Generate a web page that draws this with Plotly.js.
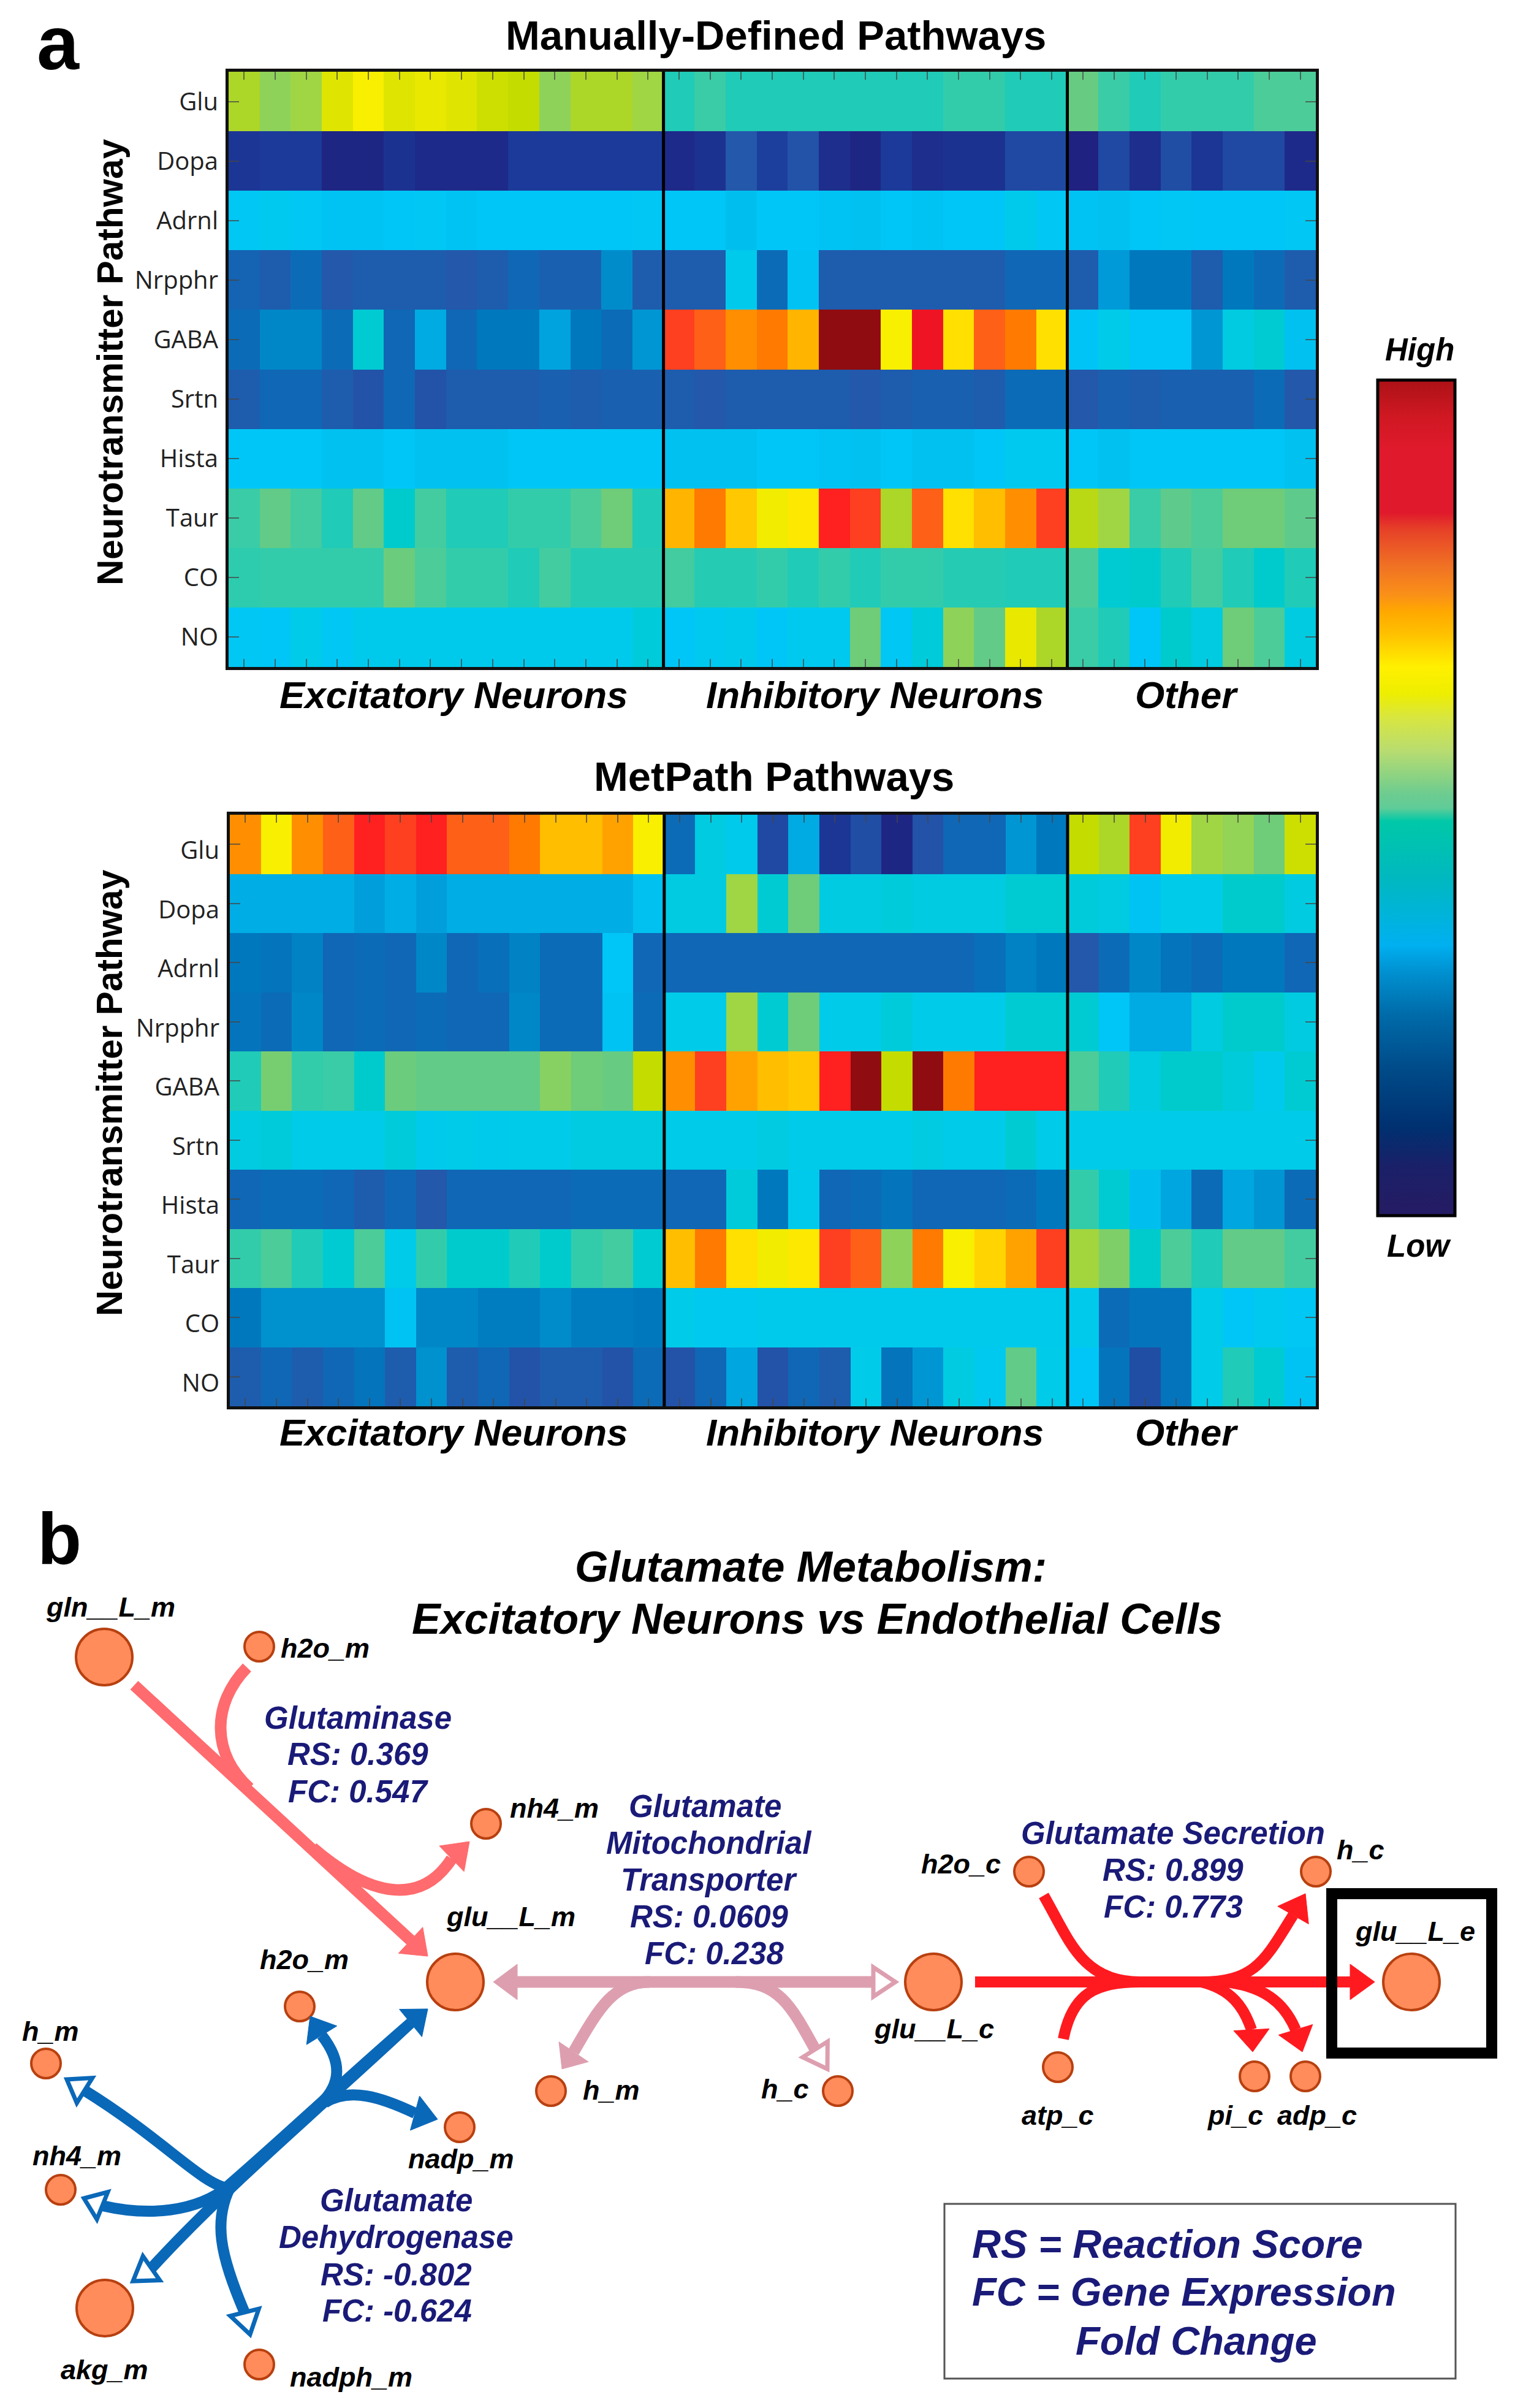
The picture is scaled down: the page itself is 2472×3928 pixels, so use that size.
<!DOCTYPE html>
<html><head><meta charset="utf-8">
<script src="https://cdn.plot.ly/plotly-3.0.1.min.js"></script>
<style>html,body{margin:0;padding:0;background:#fff}</style></head>
<body><div id="chart" style="width:2472px;height:3928px"></div>
<script>
// ---------- heatmap data ----------
const pathways = ["Glu","Dopa","Adrnl","Nrpphr","GABA","Srtn","Hista","Taur","CO","NO"];
const cellIndex = [...Array(35).keys()];
const groupLabels = ["Excitatory Neurons","Inhibitory Neurons","Other"];

const manualRows = [
 [76,68,72,83,86,83,84,83,81,80,68,76,76,72, 52,56,52,52,52,52,52,52,52,55,55,52,52, 62,56,52,55,55,55,58,58],
 [5,6,6,1,1,4,2,2,2,6,6,6,6,6, 2,4,12,7,11,3,1,6,3,4,4,9,9, 0,9,3,10,5,9,9,2],
 [41,42,41,38,38,40,41,38,40,40,40,40,40,41, 40,40,36,40,40,38,37,40,38,40,40,43,41, 38,37,40,41,40,40,40,41],
 [15,13,17,12,13,13,13,12,13,16,14,14,24,13, 13,13,43,17,38,13,13,13,13,13,13,16,16, 13,27,20,20,13,20,17,13],
 [17,23,23,17,47,16,31,16,20,20,29,20,17,26, 97,96,94,95,92,100,100,86,99,88,96,95,88, 39,44,40,40,26,45,47,37],
 [13,16,16,13,11,16,11,13,13,13,14,13,14,14, 13,12,13,13,13,13,12,13,14,14,13,17,17, 12,14,13,14,14,14,17,12],
 [40,40,40,37,37,40,37,37,37,40,40,40,40,40, 37,37,37,40,40,38,37,40,37,37,40,42,42, 40,37,40,40,40,40,40,37],
 [56,61,57,52,61,48,57,52,52,55,55,58,64,52, 92,95,90,85,87,98,97,76,96,88,91,94,97, 78,72,56,60,58,64,64,60],
 [54,55,55,55,55,63,58,55,55,52,57,53,53,53, 57,53,53,55,52,55,52,55,55,53,53,52,52, 58,47,48,52,57,52,48,52],
 [41,40,44,41,43,43,43,43,43,43,43,43,43,46, 40,42,43,40,42,42,64,41,46,68,61,84,76, 56,52,40,48,45,64,58,45]
];
const metpathRows = [
 [94,86,94,96,98,97,98,96,96,95,91,91,93,86, 17,45,43,9,31,5,10,1,11,16,16,26,20, 80,76,97,85,72,69,64,81],
 [32,32,32,32,28,32,28,32,32,32,32,32,32,37, 45,45,72,47,64,45,45,46,45,45,45,47,47, 46,45,38,44,44,48,48,45],
 [20,19,22,16,17,16,23,16,18,22,17,17,40,16, 16,16,16,16,16,16,16,16,16,16,18,22,20, 12,17,23,19,17,20,20,16],
 [19,17,23,16,17,16,17,16,16,23,17,17,38,17, 44,44,72,47,64,44,44,46,44,44,44,47,47, 47,40,31,31,45,48,48,45],
 [52,65,55,56,48,63,61,61,61,61,67,64,62,80, 94,97,93,91,90,98,100,80,100,95,98,98,98, 58,52,45,48,48,46,43,47],
 [45,46,44,44,44,46,43,44,43,44,44,45,45,45, 44,44,44,45,44,44,44,44,45,44,44,47,44, 44,44,44,44,44,44,44,44],
 [16,17,17,16,13,16,12,16,16,16,16,17,17,17, 16,16,46,20,43,16,17,19,16,16,16,17,20, 55,47,36,30,17,30,26,17],
 [55,58,52,47,58,44,55,48,48,52,48,55,57,47, 91,95,88,85,87,97,96,68,95,86,89,93,97, 73,66,48,58,52,61,61,57],
 [20,25,25,25,25,38,23,23,21,21,24,21,21,20, 44,42,42,43,43,43,43,43,43,43,43,43,43, 43,17,19,19,44,40,42,41],
 [13,16,13,16,19,13,25,13,16,11,13,13,11,17, 11,16,30,11,16,13,44,19,26,45,42,61,44, 40,19,10,19,44,52,47,38]
];

// colour levels for the cells (level 0..100 -> colour)
const cellLevels = [0,6,12,16,20,24,28,32,36,40,44,48,52,56,60,64,68,72,76,80,84,86,88,90,92,94,95,96,97,98,99,100];
const cellColors = ["#1f2280","#1b3a9a","#2358ab","#1067b5","#0078be","#008ccb","#009fdc","#00ade4","#00bfee","#00c6f7","#00cbe8","#00cbcc","#20cbb8","#3acca6","#5ecb8c","#6fcc78","#8ed25a","#a0d544","#acd628","#c4dc00","#e8e800","#f9ef00","#ffe000","#ffc800","#ffb400","#ff8f00","#ff7a00","#ff6018","#ff4020","#ff2020","#ee1424","#8f0c10"];
// colour bar
const barStops = [0,.01,.059,.105,.174,.239,.291,.324,.403,.472,.488,.504,.556,.596,.625,.657,.697,.723,.743,.779,.822,.841,.916,.956,.995,1];
const barColors = ["#241c64","#241c64","#1a2068","#003070","#004a88","#006aa8","#0090d0","#00b0f0","#00b8c0","#00c8a8","#60cc98","#6ccc90","#b8dc70","#d8e640","#eeee00","#fff000","#ffc000","#ffa800","#fa9018","#f07024","#e64028","#e01a2c","#e01a2c","#d01822","#b01218","#b01218"];

// ---------- network data ----------
const nodeNames = ["gln__L_m","h2o_m","nh4_m","glu__L_m","h2o_m","h_m","nadp_m","nh4_m","akg_m","nadph_m","h_m","h_c","glu__L_c","h2o_c","atp_c","pi_c","adp_c","h_c","glu__L_e"];
const nodeX = [170,423,793,743,489,75,750,99,171,423,899,1367,1523,1679,1726,2047,2130,2147,2303];
const nodeY = [2703,2686,2975,3233,3273,3366,3470,3572,3765,3857,3411,3411,3233,3053,3372,3387,3387,3053,3233];
const nodeSize = [92,48,48,92,48,48,48,48,92,48,48,48,92,48,48,48,48,48,92];
const labelX = [180,530,904,833,496,82,752,125,170,573,997,1281,1524,1568,1726,2015,2149,2220,2309];
const labelY = [2621,2688,2949,3126,3196,3313,3521,3516,3865,3877,3409,3407,3309,3040,3450,3450,3450,3017,3150];

const reactionText = [
 ["Glutaminase",584,2802],["RS: 0.369",584,2861],["FC: 0.547",584,2922],
 ["Glutamate",1150,2946],["Mitochondrial",1157,3006],["Transporter",1157,3066],["RS: 0.0609",1157,3126],["FC: 0.238",1165,3186],
 ["Glutamate Secretion",1914,2990],["RS: 0.899",1914,3050],["FC: 0.773",1914,3110],
 ["Glutamate",646,3589],["Dehydrogenase",646,3649],["RS: -0.802",646,3710],["FC: -0.624",648,3769]
];
const legendText = [["RS = Reaction Score",1585,3660],["FC = Gene Expression",1585,3738],["Fold Change",1754,3818]];

const pink="#ff6b6e", rose="#dd9fb0", red="#ff1a20", blue="#0a68b8";
// [colour, start, ctrl1, ctrl2, arrow base, arrow tip (or null), hollow]
const edges = [
 [pink,[219,2749],[369,2888],[520,3026],[670,3165],[698,3191],false],
 [pink,[403,2720],[345,2780],[345,2860],[407,2917],null,false],
 [pink,[510,3014],[610,3100],[690,3105],[737,3032],[766,3004],false],
 [rose,[844,3233],[1000,3233],[1200,3233],[1425,3233],[1461,3233],true],
 [rose,[1060,3233],[1000,3233],[975,3280],[936,3347],[917,3375],false],
 [rose,[1200,3233],[1270,3233],[1290,3270],[1330,3343],[1350,3375],true],
 [red,[1591,3233],[1800,3233],[2000,3233],[2203,3233],[2243,3233],false],
 [red,[1703,3092],[1745,3165],[1765,3233],[1860,3233],null,false],
 [red,[1735,3326],[1750,3250],[1790,3233],[1860,3233],null,false],
 [red,[1960,3233],[2050,3233],[2065,3195],[2110,3124],[2130,3089],false],
 [red,[1960,3233],[2010,3245],[2030,3275],[2042,3311],[2044,3347],false],
 [red,[2000,3233],[2060,3240],[2095,3265],[2114,3311],[2125,3347],false],
 [blue,[670,3300],[550,3414],[375,3560],[247,3700],[217,3721],true],
 [blue,[670,3300],[560,3395],[460,3490],[367,3570],null,false],
 [blue,[525,3430],[555,3400],[560,3365],[525,3320],[506,3289],false],
 [blue,[530,3430],[570,3405],[620,3420],[677,3447],[714,3457],false],
 [blue,[375,3570],[330,3565],[270,3492],[138,3410],[109,3392],true],
 [blue,[375,3565],[320,3610],[240,3615],[167,3598],[137,3586],true],
 [blue,[380,3560],[345,3620],[360,3680],[399,3772],[408,3808],true]
];
const lineWidths = new Map([[pink,19],[rose,19],[red,18],[blue,18]]);
// other ends of two-way paths: colour, base, tip
const extraHeads = [[blue,[670,3300],[698,3277]],[rose,[844,3233],[805,3233]]];

// ---------- layout helpers ----------
const W=2472, H=3928;
const px = v => v/W, py = v => 1-v/H;
const domX = a => [px(a[0]), px(a[1])];
const domY = a => [py(a[1]), py(a[0])];

function heat(rows,xa,ya){
  const scale = cellLevels.map((l,i)=>[l/100,cellColors[i]]);
  return {type:"heatmap",z:rows,x:cellIndex,y:pathways,xaxis:xa,yaxis:ya,zmin:0,zmax:100,colorscale:scale,showscale:false,hoverinfo:"skip"};
}
function axX(dom,anchor){return {domain:domX(dom),anchor,range:[-0.5,34.5],showgrid:false,zeroline:false,showline:true,linecolor:"#111",linewidth:5,mirror:"ticks",ticks:"inside",ticklen:13,tickwidth:2,tickcolor:"rgba(70,70,70,0.75)",tickvals:cellIndex,showticklabels:false,fixedrange:true};}
function axY(dom,anchor,shift){return {domain:domY(dom),anchor,autorange:false,range:[9.5,-0.5],type:"category",categoryorder:"array",categoryarray:pathways,showgrid:false,zeroline:false,showline:true,linecolor:"#111",linewidth:5,mirror:"ticks",ticks:"inside",ticklen:17,tickwidth:2,tickcolor:"rgba(70,70,70,0.75)",tickfont:{family:"Open Sans",size:40,color:"#222"},ticklabelstandoff:4,ticklabelshift:shift,fixedrange:true};}

const topPx={x:[373,2147],y:[117,1088]}, botPx={x:[375,2147],y:[1329,2294]};
const layout={
  width:W,height:H,margin:{l:0,r:0,t:0,b:0,pad:0},paper_bgcolor:"#fff",plot_bgcolor:"rgba(0,0,0,0)",showlegend:false,
  xaxis:axX(topPx.x,"y"), yaxis:axY(topPx.y,"x",0),
  xaxis2:axX(botPx.x,"y2"), yaxis2:axY(botPx.y,"x2",-10),
  xaxis3:{domain:[0,1],anchor:"y3",range:[0,W],visible:false,fixedrange:true},
  yaxis3:{domain:domY([2400,H]),anchor:"x3",range:[H,2400],visible:false,fixedrange:true},
  shapes:[],annotations:[]
};

// separators between the cell groups
[["x","y"],["x2","y2"]].forEach(([xr,yr],i)=>{
  [13.5,26.5].forEach(v=>layout.shapes.push({type:"line",xref:xr,yref:yr+" domain",x0:v,x1:v,y0:0,y1:1,line:{color:"#000",width:5}}));
});

// edges
const fmt=p=>p[0]+" "+p[1];
edges.forEach(e=>{
  const [c,p0,c1,c2,p3]=e;
  layout.shapes.push({type:"path",xref:"x3",yref:"y3",path:`M ${fmt(p0)} C ${fmt(c1)} ${fmt(c2)} ${fmt(p3)}`,line:{color:c,width:lineWidths.get(c)},fillcolor:"rgba(0,0,0,0)"});
});
function addHead(base,tip,c,hollow){
  const dx=tip[0]-base[0],dy=tip[1]-base[1],L=Math.hypot(dx,dy),nx=-dy/L,ny=dx/L,w=hollow?24:29;
  const a=[base[0]+nx*w,base[1]+ny*w],b=[base[0]-nx*w,base[1]-ny*w];
  layout.shapes.push({type:"path",xref:"x3",yref:"y3",path:`M ${fmt(tip)} L ${fmt(a)} L ${fmt(b)} Z`,fillcolor:hollow?"#fff":c,line:{color:c,width:hollow?7:1}});
}
edges.forEach(e=>{ if(e[5]) addHead(e[4],e[5],e[0],e[6]); });
extraHeads.forEach(t=>addHead(t[1],t[2],t[0],false));
// highlight box and key box
layout.shapes.push({type:"rect",xref:"x3",yref:"y3",x0:2173,x1:2434,y0:3089,y1:3349,line:{color:"#000",width:18},fillcolor:"rgba(0,0,0,0)"});
layout.shapes.push({type:"rect",xref:"x3",yref:"y3",x0:1541,x1:2375,y0:3595,y1:3880,line:{color:"#555",width:3},fillcolor:"rgba(0,0,0,0)"});

// texts
const SANS="Liberation Sans";
const ann=(text,x,y,size,opt={})=>layout.annotations.push(Object.assign({text,x:px(x),y:py(y),xref:"paper",yref:"paper",xanchor:"center",yanchor:"middle",showarrow:false,font:{family:SANS,size,color:"#000"},borderpad:0},opt));
const ann3=(text,x,y,size,color,anchor="center")=>layout.annotations.push({text,x,y,xref:"x3",yref:"y3",xanchor:anchor,yanchor:"middle",showarrow:false,font:{family:SANS,size,color},borderpad:0});

ann("<b>a</b>",95,70,124);
ann("<b>b</b>",97,2510,118);
ann("<b>Manually-Defined Pathways</b>",1266,57,67);
ann("<b>MetPath Pathways</b>",1263,1267,67);
ann("<b>Neurotransmitter Pathway</b>",179,591,58.5,{textangle:-90});
ann("<b>Neurotransmitter Pathway</b>",179,1783,58.5,{textangle:-90});
const groupX=[740,1427,1936];
[1133,2336].forEach(y=>groupLabels.forEach((g,i)=>ann(`<b><i>${g}</i></b>`,groupX[i],y,62)));
ann("<b><i>High</i></b>",2316,570,51);
ann("<b><i>Low</i></b>",2315,2032,51);
ann3("<b><i>Glutamate Metabolism:</i></b>",1323,2556,70,"#000");
ann3("<b><i>Excitatory Neurons vs Endothelial Cells</i></b>",1333,2641,70,"#000");
nodeNames.forEach((n,i)=>ann3(`<b><i>${n}</i></b>`,labelX[i],labelY[i],45,"#000"));
reactionText.forEach(t=>ann3(`<b><i>${t[0]}</i></b>`,t[1],t[2],51,"#1a1a78"));
legendText.forEach(t=>ann3(`<b><i>${t[0]}</i></b>`,t[1],t[2],65,"#1a1a78","left"));

const traces=[
  heat(manualRows,"x","y"),
  heat(metpathRows,"x2","y2"),
  {type:"scatter",mode:"markers",x:nodeX,y:nodeY,xaxis:"x3",yaxis:"y3",hoverinfo:"skip",
   marker:{size:nodeSize,color:"#ff8c5a",line:{color:"#b84010",width:4},opacity:1}},
  // hidden trace that only provides the High/Low colour bar
  {type:"heatmap",z:[[0,1]],x:[-300,-200],y:[2500,2600],xaxis:"x3",yaxis:"y3",zmin:0,zmax:1,hoverinfo:"skip",
   colorscale:barStops.map((s,i)=>[s,barColors[i]]),showscale:true,
   colorbar:{x:px(2248),xanchor:"left",y:py(620),yanchor:"top",xref:"paper",yref:"paper",thicknessmode:"pixels",thickness:126,lenmode:"pixels",len:1363,xpad:0,ypad:0,outlinecolor:"#000",outlinewidth:5,borderwidth:0,ticks:"",showticklabels:false}}
];
Plotly.newPlot("chart",traces,layout,{staticPlot:true,displayModeBar:false});
</script></body></html>
